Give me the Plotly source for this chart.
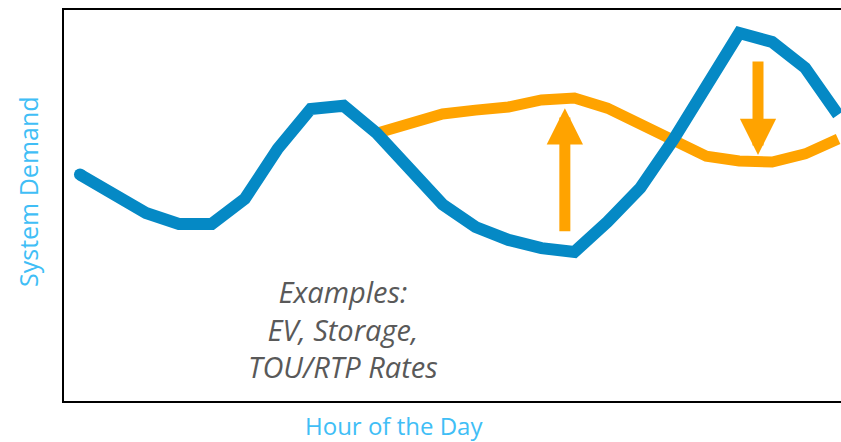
import plotly.graph_objects as go

# Hour of the day (0-23)
hours = list(range(24))

# Baseline system demand (arbitrary units, 0-100 scale)
base_demand = [57.9, 53.0, 48.1, 45.3, 45.3, 51.7, 64.5, 74.7, 75.5, 68.5,
               59.1, 50.3, 44.5, 41.2, 39.1, 38.1, 45.8, 54.5, 66.8, 80.1,
               94.1, 91.8, 85.2, 73.2]

# Shifted demand after flexible load response (starts at hour 9)
shift_hours = list(range(9, 24))
shifted_demand = [68.5, 71.3, 73.4, 74.4, 75.2, 77.0, 77.5, 74.9, 70.8, 66.2,
                  62.6, 61.4, 61.1, 63.2, 67.0]

# Load-shift arrows: (hour, tail value, tip value)
arrow_hour = [14.71, 20.57]
arrow_from = [43.0, 87.2]
arrow_to = [74.9, 62.9]

BLUE = "#0589c5"
ORANGE = "#ffa300"
TITLE_BLUE = "#40bef6"
TEXT_GREY = "#595959"

fig = go.Figure()

fig.add_trace(go.Scatter(
    x=shift_hours, y=shifted_demand, mode="lines",
    line=dict(color=ORANGE, width=11), hoverinfo="skip", showlegend=False,
))
fig.add_trace(go.Scatter(
    x=hours, y=base_demand, mode="lines",
    line=dict(color=BLUE, width=12), hoverinfo="skip", showlegend=False,
))
# rounded start of the baseline curve
fig.add_trace(go.Scatter(
    x=hours[:1], y=base_demand[:1], mode="markers",
    marker=dict(color=BLUE, size=12, line=dict(width=0)),
    hoverinfo="skip", showlegend=False,
))

for hx, y0, y1 in zip(arrow_hour, arrow_from, arrow_to):
    fig.add_annotation(
        x=hx, y=y1, ax=hx, ay=y0, xref="x", yref="y", axref="x", ayref="y",
        text="", showarrow=True, arrowhead=2, arrowsize=0.66, arrowwidth=11,
        arrowcolor=ORANGE, standoff=0, startstandoff=0,
    )

fig.add_annotation(
    text="Examples:<br>EV, Storage,<br>TOU/RTP Rates",
    xref="paper", yref="paper", x=(343 - 64) / 777, y=(401 - 329) / 391,
    xanchor="center", yanchor="middle", showarrow=False, align="center",
    font=dict(family="Open Sans", size=29, color=TEXT_GREY, style="italic"),
)

fig.add_annotation(
    text="Hour of the Day", xref="paper", yref="paper",
    x=(394 - 64) / 777, y=(401 - 425) / 391,
    xanchor="center", yanchor="middle", showarrow=False,
    font=dict(family="Open Sans", size=24, color=TITLE_BLUE),
)
fig.add_annotation(
    text="System Demand", xref="paper", yref="paper",
    x=(28 - 64) / 777, y=(401 - 192) / 391, textangle=-90,
    xanchor="center", yanchor="middle", showarrow=False,
    font=dict(family="Open Sans", size=25, color=TITLE_BLUE),
)

fig.update_xaxes(
    range=[-0.485, 23.088], showgrid=False, zeroline=False, showticklabels=False,
    ticks="", showline=True, linecolor="black", linewidth=2, mirror=True,
)
fig.update_yaxes(
    range=[0, 100], showgrid=False, zeroline=False, showticklabels=False,
    ticks="", showline=True, linecolor="black", linewidth=2, mirror=False,
)

fig.update_layout(
    width=841, height=442,
    margin=dict(l=64, r=0, t=10, b=41),
    paper_bgcolor="white", plot_bgcolor="white",
    showlegend=False,
)

fig.write_html("out.html")
